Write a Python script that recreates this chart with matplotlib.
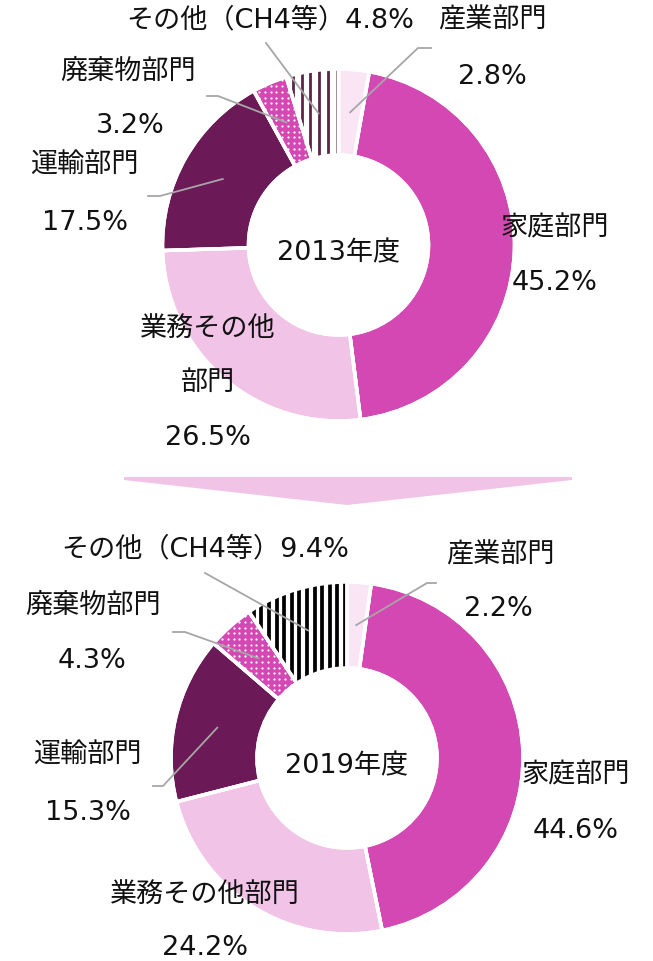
import numpy as np
import matplotlib.pyplot as plt
from matplotlib.patches import Wedge, Polygon

plt.rcParams['font.family'] = ['DejaVu Sans', 'Noto Sans CJK JP']

# data
categories = ['産業部門', '家庭部門', '業務その他部門', '運輸部門', '廃棄物部門', 'その他（CH4等）']
share_2013 = [2.8, 45.2, 26.5, 17.5, 3.2, 4.8]
share_2019 = [2.2, 44.6, 24.2, 15.3, 4.3, 9.4]
years = ['2013年度', '2019年度']

colors = ['#FAE5F5', '#D448B4', '#F1C4E7', '#6C1A57', '#D448B4', '#FFFFFF']
stripe_colors = ['#5C2447', '#000000']
stripe_step = [8.7, 7.6]     # px between stripes
stripe_lw = [2.0, 2.7]       # pt
line_col = '#A6A6A6'

W, H = 653, 962
fig = plt.figure(figsize=(W / 100, H / 100), dpi=100)
ax = fig.add_axes([0, 0, 1, 1])

R, HOLE = 176, 90
centers = [(338.5, 246), (347, 759)]

def pct(v):
    return f'{v:.1f}%'

# label layout per chart: (category index, [(text, x, y), ...])
layouts = [
    [
        (0, [('産業部門', 492, 20), (pct(share_2013[0]), 492, 77)]),
        (1, [('家庭部門', 555, 228), (pct(share_2013[1]), 555, 283)]),
        (2, [('業務その他', 208, 329), ('部門', 208, 383), (pct(share_2013[2]), 208, 438)]),
        (3, [('運輸部門', 84, 166), (pct(share_2013[3]), 85, 223)]),
        (4, [('廃棄物部門', 128, 72), (pct(share_2013[4]), 130, 126)]),
        (5, [(categories[5] + pct(share_2013[5]), 270, 20)]),
    ],
    [
        (0, [('産業部門', 500, 555), (pct(share_2019[0]), 498, 609)]),
        (1, [('家庭部門', 576, 776), (pct(share_2019[1]), 576, 831)]),
        (2, [('業務その他部門', 205, 895), (pct(share_2019[2]), 205, 948)]),
        (3, [('運輸部門', 87, 756), (pct(share_2019[3]), 88, 813)]),
        (4, [('廃棄物部門', 93, 606), (pct(share_2019[4]), 92, 661)]),
        (5, [(categories[5] + pct(share_2019[5]), 205, 549)]),
    ],
]

# leader lines: category index -> points after the wedge anchor
leaders = [
    {0: [(418, 49), (431, 49)], 5: [(266, 44)], 4: [(218, 97), (207, 97)], 3: [(160, 197), (148, 197)]},
    {0: [(427, 584), (436, 584)], 5: [(205, 574)], 4: [(185, 633), (173, 633)], 3: [(163, 787), (153, 787)]},
]

for k, vals in enumerate([share_2013, share_2019]):
    cx, cy = centers[k]
    # y axis is inverted, so counterclock=True runs clockwise on screen
    wedges, _ = ax.pie(vals, colors=colors, startangle=-90, counterclock=True,
                       radius=R, center=(cx, cy),
                       wedgeprops=dict(width=R - HOLE, edgecolor='white', linewidth=2.5))

    # white dots on the waste wedge
    gx, gy = np.meshgrid(np.arange(cx - R, cx + R, 5.7), np.arange(cy - R, cy + R, 5.7))
    dots = ax.scatter(gx.ravel(), gy.ravel(), s=2.6, color='white', linewidths=0, zorder=2)
    dots.set_clip_path(wedges[4])

    # vertical stripes on the "other" wedge
    xs = np.arange(cx - 2, cx - R, -stripe_step[k])
    st = ax.vlines(xs, cy - R, cy, colors=stripe_colors[k], linewidth=stripe_lw[k], zorder=2)
    st.set_clip_path(wedges[5])

    for w in wedges:
        ax.add_patch(Wedge(w.center, w.r, w.theta1, w.theta2, width=w.width,
                           fill=False, edgecolor='white', linewidth=2.5, zorder=3))

    for idx, pts in leaders[k].items():
        w = wedges[idx]
        th = np.deg2rad((w.theta1 + w.theta2) / 2)
        r0 = R * 0.757
        lx = [cx + r0 * np.cos(th)] + [p[0] for p in pts]
        ly = [cy + r0 * np.sin(th)] + [p[1] for p in pts]
        ax.plot(lx, ly, color=line_col, lw=1.3, zorder=5)

    for idx, lines in layouts[k]:
        for txt, x, y in lines:
            ax.text(x, y, txt, ha='center', va='center', fontsize=19.5, color='#111111')

    ax.text(cx, cy + 7, years[k], ha='center', va='center', fontsize=19.5, color='#111111')

# arrow between the two charts
ax.add_patch(Polygon([(124, 478), (572, 478), (572, 481), (347, 506), (124, 481)],
                     closed=True, facecolor='#F1C4E7', edgecolor='none'))

ax.set_xlim(0, W)
ax.set_ylim(H, 0)
ax.set_aspect('equal')
ax.axis('off')

fig.savefig('out.png', dpi=100)
